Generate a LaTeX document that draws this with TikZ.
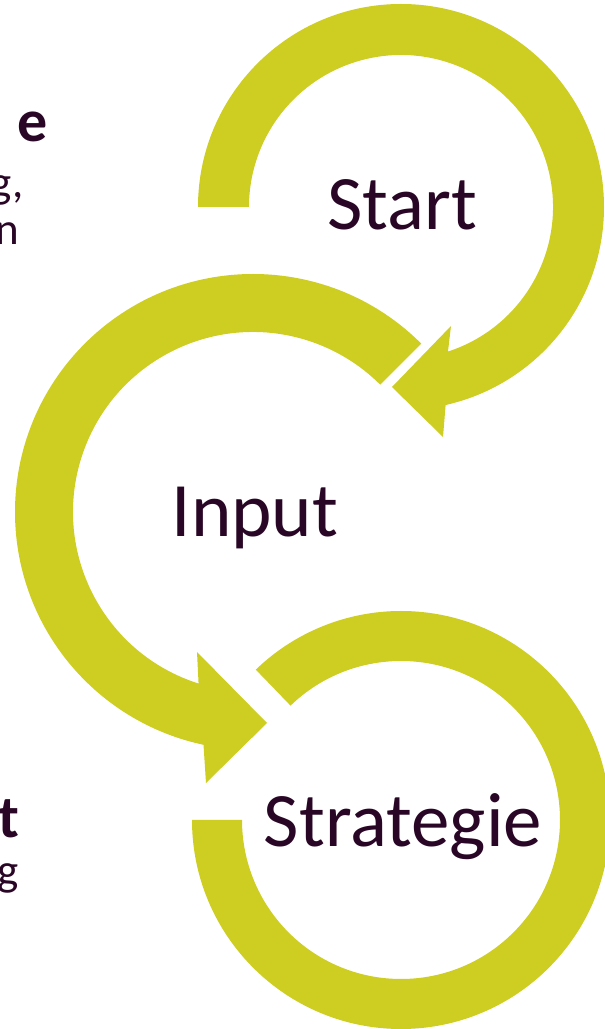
\documentclass[tikz,border=0pt]{standalone}
\usepackage{fontspec}
\setmainfont{Carlito}
\usetikzlibrary{calc}
\definecolor{arrowgreen}{RGB}{205,205,34}
\definecolor{textplum}{RGB}{42,6,38}

\begin{document}
\begin{tikzpicture}[
		x=1pt, y=1pt,
		every node/.style={inner sep=0pt, text=textplum},
		ring/.style={fill=arrowgreen, draw=none},
		stage/.style={font=\fontsize{77}{80}\selectfont, anchor=base},
		cuthead/.style={font=\fontsize{60}{64}\selectfont\bfseries, anchor=base east},
		cutbody/.style={font=\fontsize{45}{50}\selectfont, anchor=base east}
		]
		\useasboundingbox (0,0) rectangle (605,1029);
		% Centres of the three rings
		\coordinate (cS) at (401,822);
		\coordinate (cI) at (253,517);
		\coordinate (cT) at (401,209);
		
		% Ring around Start, arrow head towards Input
		\fill[ring] ($(cS)+(180:203pt)$) arc[start angle=180, end angle=-77.3, radius=203pt]
			-- (443,592) -- (392,642) -- (451,703)
			-- ($(cS)+(-72:152pt)$) arc[start angle=-72, end angle=180, radius=152pt] -- cycle;
		% Ring around Input, arrow head towards Strategie
		\fill[ring] ($(cI)+(45:238pt)$) arc[start angle=45, end angle=258, radius=238pt]
			-- (206,246) -- (267,306) -- (197,377)
			-- ($(cI)+(252.4:180pt)$) arc[start angle=252.4, end angle=45, radius=180pt] -- cycle;
		% Ring around Strategie, no arrow head
		\fill[ring] ($(cT)+(180:209pt)$) arc[start angle=180, end angle=494, radius=209pt]
			-- ($(cT)+(494:159pt)$) arc[start angle=494, end angle=180, radius=159pt] -- cycle;
		
		% Stage labels
		\node[stage] (start) at (402,799) {Start};
		\node[stage] (input) at (255,492) {Input};
		\node[stage] (strat) at (403,182) {Strategie};
		
		% Text cut off at the left edge
		\node[cuthead] (tophead) at (48,887) {e};
		\node[cutbody] (topline1) at (24,831) {g,};
		\node[cutbody] (topline2) at (19,784) {n};
		\node[cuthead] (lowhead) at (20,191) {t};
		\node[cutbody] (lowline1) at (19,143) {g};
	\end{tikzpicture}
\end{document}
